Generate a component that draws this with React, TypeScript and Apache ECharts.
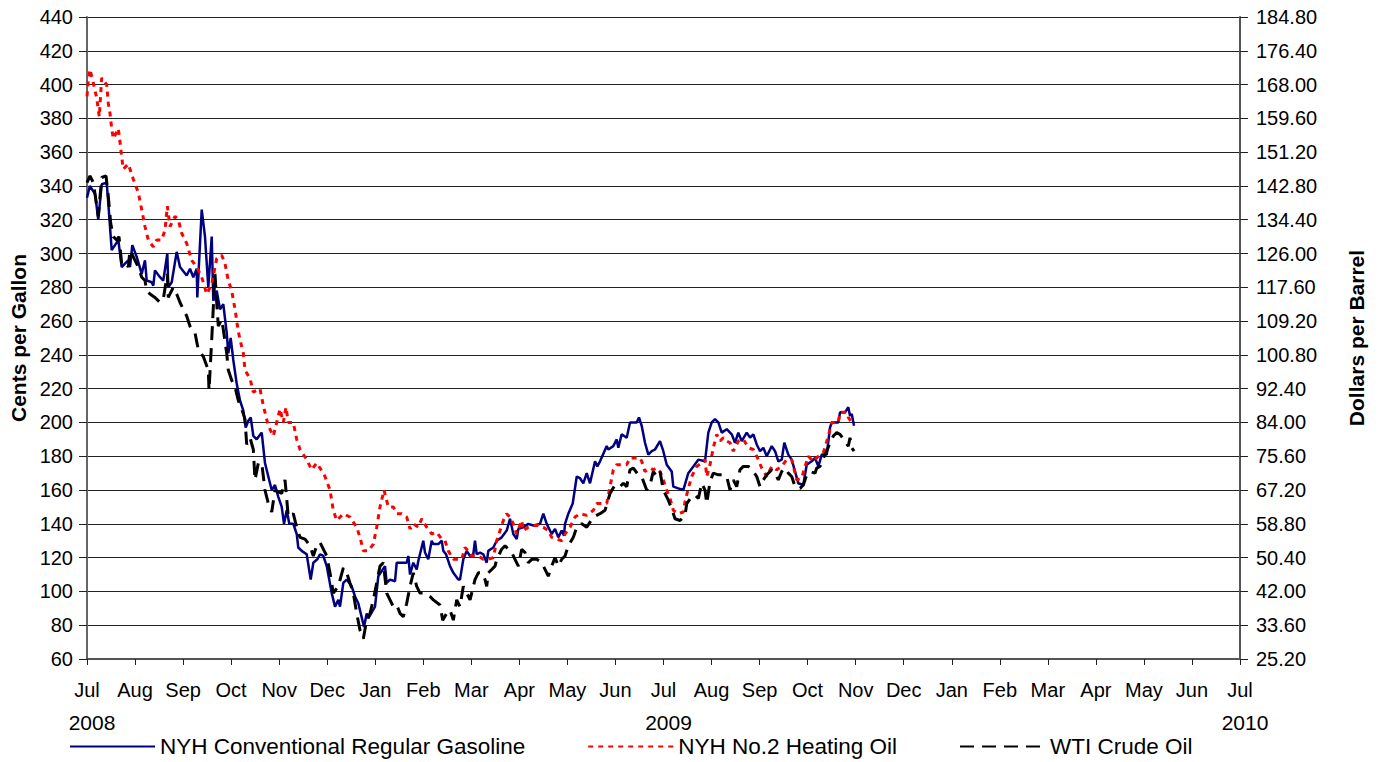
import React, { useEffect, useRef } from "react";
import * as echarts from "echarts";

// x = months after 1 Jul 2008, y = cents per gallon
const monthLabels = ["Jul", "Aug", "Sep", "Oct", "Nov", "Dec", "Jan", "Feb", "Mar", "Apr", "May", "Jun"];
const yearLabels = ["2008", "2009", "2010"];
const seriesNames = ["NYH Conventional Regular Gasoline", "NYH No.2 Heating Oil", "WTI Crude Oil"];

const gasoline: [number, number][] = [
  [0, 333], [0.06, 340], [0.17, 335], [0.235, 320], [0.306, 341], [0.41, 342], [0.443, 330], [0.514, 302],
  [0.583, 305], [0.652, 308], [0.722, 292], [0.791, 294], [0.86, 296], [0.895, 292], [0.943, 305], [1.035, 298],
  [1.139, 288], [1.207, 296], [1.243, 284], [1.347, 283], [1.38, 281], [1.415, 290], [1.52, 286], [1.588, 284],
  [1.672, 300], [1.692, 280], [1.763, 283], [1.867, 301], [1.936, 292], [2.075, 287], [2.144, 291], [2.213, 286],
  [2.284, 291], [2.296, 274], [2.388, 326], [2.456, 310], [2.525, 280], [2.596, 310], [2.629, 272], [2.7, 278],
  [2.768, 267], [2.837, 270], [2.908, 253], [2.941, 241], [2.991, 250], [3.045, 237], [3.116, 223], [3.185, 213],
  [3.254, 207], [3.303, 197], [3.358, 201], [3.408, 203], [3.462, 192], [3.532, 190], [3.637, 194], [3.705, 176],
  [3.774, 168], [3.845, 160], [3.913, 163], [3.982, 156], [4.053, 150], [4.101, 140], [4.157, 148], [4.211, 140],
  [4.294, 140], [4.365, 134], [4.398, 126], [4.469, 124], [4.573, 122], [4.656, 107], [4.711, 117], [4.794, 119],
  [4.85, 122], [4.919, 121], [4.99, 115], [5.094, 99], [5.162, 91], [5.231, 95], [5.266, 91], [5.335, 105],
  [5.406, 107], [5.51, 103], [5.579, 97], [5.647, 93], [5.766, 79], [5.822, 87], [5.855, 84], [5.995, 91],
  [6.064, 109], [6.134, 112], [6.203, 115], [6.238, 105], [6.307, 107], [6.411, 106], [6.447, 117], [6.551, 117],
  [6.655, 117], [6.688, 121], [6.724, 110], [6.792, 117], [6.863, 113], [6.896, 118], [7.0, 130], [7.036, 123],
  [7.104, 119], [7.175, 130], [7.209, 128], [7.313, 128], [7.384, 130], [7.417, 124], [7.473, 122], [7.556, 115],
  [7.625, 111], [7.729, 107], [7.764, 107], [7.833, 119], [7.904, 124], [7.973, 121], [8.041, 122], [8.076, 130],
  [8.112, 122], [8.181, 123], [8.249, 122], [8.32, 117], [8.353, 124], [8.458, 126], [8.528, 130], [8.632, 132],
  [8.736, 136], [8.805, 143], [8.874, 134], [8.945, 131], [8.978, 137], [9.082, 138], [9.186, 140], [9.29, 139],
  [9.43, 140], [9.498, 146], [9.569, 140], [9.673, 134], [9.742, 137], [9.81, 132], [9.881, 136], [9.929, 133],
  [9.95, 140], [10.019, 146], [10.11, 152], [10.194, 168], [10.262, 167], [10.331, 164], [10.402, 170], [10.47, 164],
  [10.575, 177], [10.623, 174], [10.679, 177], [10.818, 186], [10.851, 184], [10.955, 186], [11.026, 190], [11.059, 185],
  [11.13, 193], [11.234, 191], [11.303, 200], [11.442, 200], [11.49, 203], [11.546, 198], [11.615, 188], [11.684, 181],
  [11.755, 183], [11.823, 184], [11.927, 189], [11.996, 183], [12.067, 175], [12.171, 171], [12.204, 162], [12.308, 161],
  [12.412, 160], [12.516, 170], [12.621, 174], [12.725, 178], [12.864, 177], [12.933, 194], [13.004, 200], [13.072, 202],
  [13.141, 200], [13.212, 194], [13.316, 196], [13.42, 193], [13.489, 188], [13.557, 194], [13.628, 189], [13.732, 194],
  [13.801, 191], [13.87, 193], [13.94, 187], [14.009, 183], [14.078, 185], [14.149, 180], [14.253, 186], [14.322, 183],
  [14.39, 177], [14.461, 178], [14.515, 188], [14.598, 181], [14.669, 178], [14.738, 171], [14.806, 164], [14.91, 163],
  [14.981, 175], [15.085, 177], [15.154, 179], [15.223, 174], [15.294, 181], [15.398, 181], [15.466, 197], [15.501, 200],
  [15.639, 200], [15.674, 206], [15.778, 206], [15.847, 209], [15.882, 204], [15.918, 205], [15.966, 198],
];

const heatingOil: [number, number][] = [
  [0, 393], [0.027, 402], [0.062, 409], [0.131, 401], [0.202, 392], [0.256, 381], [0.306, 404], [0.41, 400],
  [0.443, 389], [0.479, 383], [0.514, 374], [0.547, 368], [0.652, 374], [0.687, 366], [0.722, 357], [0.756, 350],
  [0.86, 353], [0.964, 344], [1.068, 336], [1.139, 326], [1.207, 316], [1.276, 308], [1.38, 304], [1.451, 308],
  [1.555, 308], [1.624, 314], [1.672, 328], [1.728, 316], [1.832, 322], [1.9, 320], [1.971, 312], [2.075, 306],
  [2.179, 296], [2.284, 292], [2.388, 286], [2.492, 276], [2.596, 282], [2.7, 297], [2.804, 299], [2.873, 294],
  [2.941, 284], [3.012, 278], [3.081, 267], [3.149, 254], [3.185, 249], [3.254, 241], [3.289, 231], [3.393, 226],
  [3.462, 218], [3.601, 220], [3.67, 210], [3.774, 198], [3.878, 192], [3.949, 200], [4.017, 208], [4.086, 200],
  [4.142, 209], [4.19, 200], [4.294, 200], [4.365, 190], [4.434, 184], [4.573, 178], [4.677, 172], [4.781, 176],
  [4.85, 173], [4.954, 168], [5.058, 160], [5.127, 148], [5.198, 142], [5.335, 146], [5.474, 144], [5.614, 138],
  [5.683, 132], [5.752, 124], [5.855, 124], [5.96, 128], [6.03, 138], [6.099, 150], [6.182, 160], [6.272, 150],
  [6.376, 150], [6.447, 146], [6.551, 146], [6.655, 144], [6.724, 137], [6.792, 140], [6.896, 138], [6.967, 143],
  [7.071, 138], [7.175, 134], [7.279, 135], [7.384, 131], [7.452, 130], [7.521, 124], [7.625, 119], [7.729, 119],
  [7.8, 119], [7.868, 126], [7.937, 124], [8.008, 121], [8.145, 121], [8.249, 119], [8.353, 119], [8.458, 120],
  [8.528, 130], [8.597, 136], [8.666, 142], [8.736, 146], [8.805, 144], [8.874, 140], [8.945, 134], [9.049, 142],
  [9.082, 136], [9.186, 138], [9.29, 139], [9.394, 139], [9.498, 138], [9.602, 136], [9.673, 132], [9.777, 131],
  [9.881, 130], [9.95, 134], [10.054, 138], [10.158, 144], [10.262, 146], [10.402, 145], [10.539, 148], [10.61, 152],
  [10.714, 152], [10.818, 152], [10.887, 162], [10.955, 172], [11.026, 175], [11.13, 175], [11.234, 175], [11.303, 179],
  [11.407, 179], [11.511, 179], [11.546, 177], [11.615, 171], [11.72, 173], [11.788, 172], [11.859, 173], [11.927, 171],
  [11.996, 166], [12.067, 160], [12.136, 155], [12.204, 148], [12.308, 146], [12.412, 147], [12.448, 153], [12.516, 161],
  [12.587, 168], [12.691, 174], [12.796, 176], [12.864, 178], [12.9, 168], [12.968, 175], [13.037, 185], [13.108, 193],
  [13.177, 189], [13.246, 191], [13.316, 189], [13.385, 188], [13.453, 183], [13.557, 189], [13.662, 190], [13.766, 185],
  [13.87, 184], [13.974, 178], [14.045, 173], [14.149, 168], [14.253, 174], [14.357, 172], [14.461, 174], [14.565, 178],
  [14.669, 178], [14.773, 166], [14.877, 167], [14.946, 174], [15.015, 180], [15.119, 177], [15.223, 180], [15.327, 182],
  [15.431, 192], [15.501, 200], [15.639, 200], [15.674, 206], [15.814, 206], [15.847, 203], [15.918, 200], [15.951, 199],
];

const wtiCrude: [number, number][] = [
  [0, 342], [0.062, 346], [0.131, 342], [0.235, 322], [0.306, 345], [0.396, 346], [0.443, 334], [0.493, 318],
  [0.547, 310], [0.618, 308], [0.666, 310], [0.722, 294], [0.791, 295], [0.86, 292], [0.895, 302], [0.964, 298],
  [1.068, 292], [1.139, 286], [1.207, 284], [1.243, 278], [1.311, 276], [1.415, 274], [1.52, 271], [1.588, 273],
  [1.672, 288], [1.692, 274], [1.796, 280], [1.867, 276], [1.936, 271], [2.005, 267], [2.075, 263], [2.144, 257],
  [2.248, 253], [2.317, 243], [2.421, 239], [2.525, 231], [2.54, 219], [2.596, 249], [2.664, 288], [2.7, 271],
  [2.733, 257], [2.804, 261], [2.837, 255], [2.908, 241], [2.941, 231], [3.012, 225], [3.081, 221], [3.149, 213],
  [3.22, 208], [3.289, 202], [3.324, 187], [3.393, 191], [3.462, 184], [3.497, 166], [3.566, 176], [3.637, 176],
  [3.705, 160], [3.774, 152], [3.845, 147], [3.913, 160], [3.982, 159], [4.053, 158], [4.122, 166], [4.19, 144],
  [4.294, 146], [4.365, 138], [4.434, 132], [4.538, 131], [4.642, 127], [4.711, 121], [4.781, 127], [4.85, 129],
  [4.919, 125], [4.99, 121], [5.058, 111], [5.127, 99], [5.231, 103], [5.335, 114], [5.406, 111], [5.474, 105],
  [5.543, 99], [5.614, 87], [5.683, 77], [5.752, 72], [5.822, 83], [5.891, 87], [5.96, 95], [6.03, 105],
  [6.099, 115], [6.168, 117], [6.238, 99], [6.307, 95], [6.376, 91], [6.447, 92], [6.515, 87], [6.584, 85],
  [6.655, 93], [6.724, 103], [6.792, 111], [6.863, 103], [6.932, 99], [7.036, 99], [7.14, 97], [7.209, 95],
  [7.348, 92], [7.404, 83], [7.487, 87], [7.556, 89], [7.625, 83], [7.696, 95], [7.764, 91], [7.833, 103],
  [7.904, 99], [7.973, 95], [8.041, 103], [8.076, 107], [8.145, 111], [8.216, 111], [8.285, 107], [8.32, 103],
  [8.353, 111], [8.424, 113], [8.493, 115], [8.528, 119], [8.632, 125], [8.701, 127], [8.77, 125], [8.84, 123],
  [8.909, 119], [8.978, 115], [9.049, 125], [9.117, 123], [9.186, 117], [9.257, 119], [9.361, 119], [9.465, 117],
  [9.534, 113], [9.602, 109], [9.673, 115], [9.742, 120], [9.81, 115], [9.881, 119], [9.95, 121], [10.019, 127],
  [10.123, 132], [10.194, 138], [10.298, 140], [10.402, 138], [10.47, 141], [10.539, 144], [10.679, 146], [10.783, 148],
  [10.887, 158], [10.991, 163], [11.095, 162], [11.164, 164], [11.234, 162], [11.303, 172], [11.372, 173], [11.476, 169],
  [11.546, 168], [11.65, 160], [11.72, 163], [11.788, 171], [11.859, 168], [11.927, 171], [11.996, 160], [12.1, 154],
  [12.171, 149], [12.24, 143], [12.344, 142], [12.448, 145], [12.484, 152], [12.587, 156], [12.656, 157], [12.725, 155],
  [12.796, 164], [12.864, 160], [12.9, 152], [12.968, 165], [13.037, 170], [13.141, 169], [13.246, 169], [13.316, 168],
  [13.385, 160], [13.453, 166], [13.524, 162], [13.592, 172], [13.662, 174], [13.766, 174], [13.87, 171], [13.94, 168],
  [14.009, 162], [14.078, 166], [14.149, 169], [14.253, 172], [14.322, 170], [14.39, 166], [14.461, 171], [14.53, 173],
  [14.598, 170], [14.669, 168], [14.738, 162], [14.842, 161], [14.91, 163], [14.981, 169], [15.05, 171], [15.154, 170],
  [15.189, 173], [15.258, 174], [15.327, 179], [15.398, 183], [15.466, 188], [15.535, 192], [15.605, 194], [15.674, 193],
  [15.778, 189], [15.847, 186], [15.882, 191], [15.918, 185], [15.966, 183],
];

const FONT = "'Liberation Sans', Arial, Helvetica, sans-serif";

export default function App() {
  const ref = useRef<HTMLDivElement>(null);
  useEffect(() => {
    if (!ref.current) return;
    const chart = echarts.init(ref.current, null, { renderer: "svg" });
    const monthFormatter = (v: number) => {
      const i = Math.round(v);
      const m = monthLabels[i % 12];
      if (i % 12 === 0) return "{m|" + m + "}\n{y|" + yearLabels[i / 12] + "}";
      return "{m|" + m + "}";
    };
    chart.setOption({
      animation: false,
      backgroundColor: "#ffffff",
      textStyle: { fontFamily: FONT },
      grid: { left: 87, right: 140, top: 17, bottom: 103, containLabel: false, outerBoundsMode: "none" },
      legend: {
        left: 64,
        top: 730,
        itemWidth: 85,
        itemHeight: 14,
        itemGap: 62,
        itemStyle: { opacity: 0 },
        textStyle: { fontSize: 22.5, color: "#000", fontFamily: FONT },
        data: seriesNames,
      },
      xAxis: {
        type: "value",
        min: 0,
        max: 24,
        interval: 1,
        axisLine: { show: true, lineStyle: { color: "#555", width: 2 } },
        axisTick: { show: true, inside: false, length: 6, lineStyle: { color: "#222", width: 1 } },
        splitLine: { show: false },
        axisLabel: {
          margin: 15,
          color: "#000",
          formatter: monthFormatter,
          rich: {
            m: { fontSize: 20, lineHeight: 32, fontFamily: FONT, color: "#000" },
            y: { fontSize: 21, lineHeight: 32, fontFamily: FONT, color: "#000", padding: [0, 0, 0, 10] },
          },
        },
      },
      yAxis: [
        {
          type: "value",
          min: 60,
          max: 440,
          interval: 20,
          position: "left",
          name: "Cents per Gallon",
          nameLocation: "middle",
          nameRotate: 90,
          nameGap: 58,
          nameTextStyle: { fontSize: 21, fontWeight: "bold", color: "#000", fontFamily: FONT },
          axisLine: { show: true, lineStyle: { color: "#666", width: 2 } },
          axisTick: { show: true, inside: false, length: 8, lineStyle: { color: "#222" } },
          axisLabel: { fontSize: 20, color: "#000", margin: 14, fontFamily: FONT },
          splitLine: { show: true, lineStyle: { color: "#222", width: 1 } },
        },
        {
          type: "value",
          min: 60,
          max: 440,
          interval: 20,
          position: "right",
          name: "Dollars per Barrel",
          nameLocation: "middle",
          nameRotate: 90,
          nameGap: 106,
          nameTextStyle: { fontSize: 21, fontWeight: "bold", color: "#000", fontFamily: FONT },
          axisLine: { show: true, lineStyle: { color: "#555", width: 2 } },
          axisTick: { show: true, inside: false, length: 8, lineStyle: { color: "#222" } },
          axisLabel: {
            fontSize: 20,
            color: "#000",
            margin: 16,
            fontFamily: FONT,
            formatter: (v: number) => ((v * 42) / 100).toFixed(2),
          },
          splitLine: { show: false },
        },
      ],
      series: [
        {
          name: seriesNames[0],
          type: "line",
          data: gasoline,
          showSymbol: false,
          symbol: "none",
          lineStyle: { color: "#000080", width: 2.5, type: "solid" },
          itemStyle: { color: "#000080" },
        },
        {
          name: seriesNames[1],
          type: "line",
          data: heatingOil,
          showSymbol: false,
          symbol: "none",
          lineStyle: { color: "#ff0000", width: 3, type: [5, 5] },
          itemStyle: { color: "#ff0000" },
        },
        {
          name: seriesNames[2],
          type: "line",
          data: wtiCrude,
          showSymbol: false,
          symbol: "none",
          lineStyle: { color: "#000000", width: 3, type: [14, 8] },
          itemStyle: { color: "#000000" },
        },
      ],
    });
    return () => chart.dispose();
  }, []);
  return (
    <div
      ref={ref}
      style={{ position: "fixed", left: 0, top: 0, width: 1380, height: 762, background: "#fff" }}
    />
  );
}
